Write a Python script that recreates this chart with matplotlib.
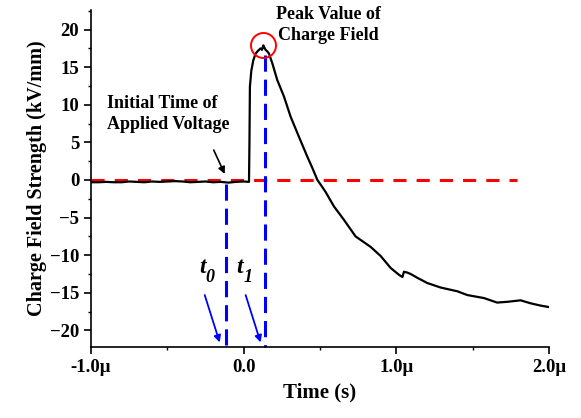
import matplotlib
matplotlib.use('Agg')
import matplotlib.pyplot as plt
from matplotlib.ticker import FuncFormatter, MultipleLocator

plt.rcParams['font.family'] = 'Liberation Serif'
plt.rcParams['font.weight'] = 'bold'

# time in microseconds, field in kV/mm
time_us = [-1.0, -0.95, -0.9, -0.85, -0.8, -0.75, -0.7, -0.65, -0.6, -0.55,
           -0.5, -0.45, -0.4, -0.35, -0.3, -0.25, -0.2, -0.15, -0.1, -0.05,
           0.0, 0.035, 0.038, 0.041, 0.05, 0.063, 0.078, 0.095, 0.111, 0.12,
           0.129, 0.136, 0.144, 0.155, 0.166, 0.188, 0.22, 0.264, 0.308, 0.362,
           0.417, 0.45, 0.483, 0.504, 0.537, 0.591, 0.657, 0.733, 0.832, 0.897,
           0.963, 1.017, 1.04, 1.05, 1.07, 1.094, 1.137, 1.203, 1.29, 1.40,
           1.465, 1.574, 1.66, 1.727, 1.814, 1.88, 1.945, 2.0]
field = [-0.3, -0.3, -0.25, -0.3, -0.3, -0.2, -0.25, -0.3, -0.2, -0.25,
         -0.2, -0.15, -0.2, -0.3, -0.25, -0.2, -0.3, -0.25, -0.35, -0.25,
         -0.2, -0.25, 5.0, 12.4, 14.5, 15.9, 16.8, 17.2, 17.5, 17.3,
         17.9, 17.6, 17.3, 17.1, 16.8, 15.5, 13.3, 11.1, 8.4, 5.75,
         3.1, 1.6, 0.0, -0.6, -1.6, -3.5, -5.3, -7.5, -8.9, -10.1,
         -11.7, -12.6, -12.9, -12.2, -12.3, -12.5, -13.0, -13.7, -14.3, -14.8,
         -15.3, -15.7, -16.3, -16.2, -16.0, -16.4, -16.7, -16.9]

t0_us = -0.118
t1_us = 0.137
peak_point = (0.13, 17.9)

fig = plt.figure(figsize=(5.81, 4.18), dpi=100)
ax = fig.add_axes([0.1566, 0.170, 0.7883, 0.806])

ax.plot(time_us, field, color='black', lw=1.6, zorder=3)
ax.plot([-1.0, 1.79], [0, 0], color='red', lw=2.2,
        linestyle=(0, (4.3, 3.3)), zorder=2)

ybot = -22.2
ax.plot([t0_us, t0_us], [-0.5, ybot], color='blue', lw=2.2,
        linestyle=(0, (5.3, 2.6)), zorder=2, clip_on=False)
ax.plot([t1_us, t1_us], [16.6, ybot], color='blue', lw=2.2,
        linestyle=(0, (5.3, 2.6)), zorder=2, clip_on=False)

ax.plot(*peak_point, marker='o', ms=18, mfc='none', mec='red', mew=1.4,
        zorder=4)

ax.text(0.557, 20.6, 'Peak Value of\nCharge Field', ha='center', va='center',
        fontsize=13, fontweight='bold', linespacing=1.3, clip_on=False)
ax.text(-0.894, 8.76, 'Initial Time of\nApplied Voltage', ha='left',
        va='center', fontsize=13, fontweight='bold', linespacing=1.3)
ax.annotate('', xy=(-0.124, 0.8), xytext=(-0.196, 3.98),
            arrowprops=dict(arrowstyle='-|>', color='black', lw=1.2,
                            mutation_scale=10, shrinkA=0, shrinkB=0))

# t0 / t1 labels: italic bold letter with a smaller italic subscript
for (tx, sx, sub) in [(-0.272, -0.222, '0'), (-0.024, 0.026, '1')]:
    ax.text(tx, -11.7, 't', ha='center', va='center', fontsize=17,
            fontweight='bold', style='italic')
    ax.text(sx, -12.9, sub, ha='center', va='center', fontsize=13,
            fontweight='bold', style='italic')
for (x0, y0), (x1, y1) in [((-0.255, -15.3), (-0.157, -21.6)),
                           ((0.013, -15.3), (0.111, -21.6))]:
    ax.annotate('', xy=(x1, y1), xytext=(x0, y0),
                arrowprops=dict(arrowstyle='-|>', color='blue', lw=1.3,
                                mutation_scale=10, shrinkA=0, shrinkB=0))

ax.set_xlim(-1.0, 2.0)
ax.set_ylim(ybot, 22.6)
ax.xaxis.set_major_locator(MultipleLocator(1.0))
ax.xaxis.set_minor_locator(MultipleLocator(0.5))
ax.yaxis.set_major_locator(MultipleLocator(5))
ax.yaxis.set_minor_locator(MultipleLocator(2.5))


def fmt_us(v, pos):
    if abs(v) < 1e-9:
        return '0.0'
    return '%.1f\u03bc' % v


ax.xaxis.set_major_formatter(FuncFormatter(fmt_us))
ax.tick_params(which='major', direction='out', length=5, width=1.2,
               labelsize=13.5, pad=3.5)
ax.tick_params(which='minor', direction='out', length=2.5, width=1.0)
for lbl in ax.get_xticklabels() + ax.get_yticklabels():
    lbl.set_fontweight('bold')

for s in ['top', 'right']:
    ax.spines[s].set_visible(False)
for s in ['left', 'bottom']:
    ax.spines[s].set_linewidth(1.2)

ax.set_xlabel('Time (s)', fontsize=15, fontweight='bold', labelpad=5)
ax.set_ylabel('Charge Field Strength (kV/mm)', fontsize=14.5,
              fontweight='bold', labelpad=2)

fig.savefig('out.png', dpi=100)
